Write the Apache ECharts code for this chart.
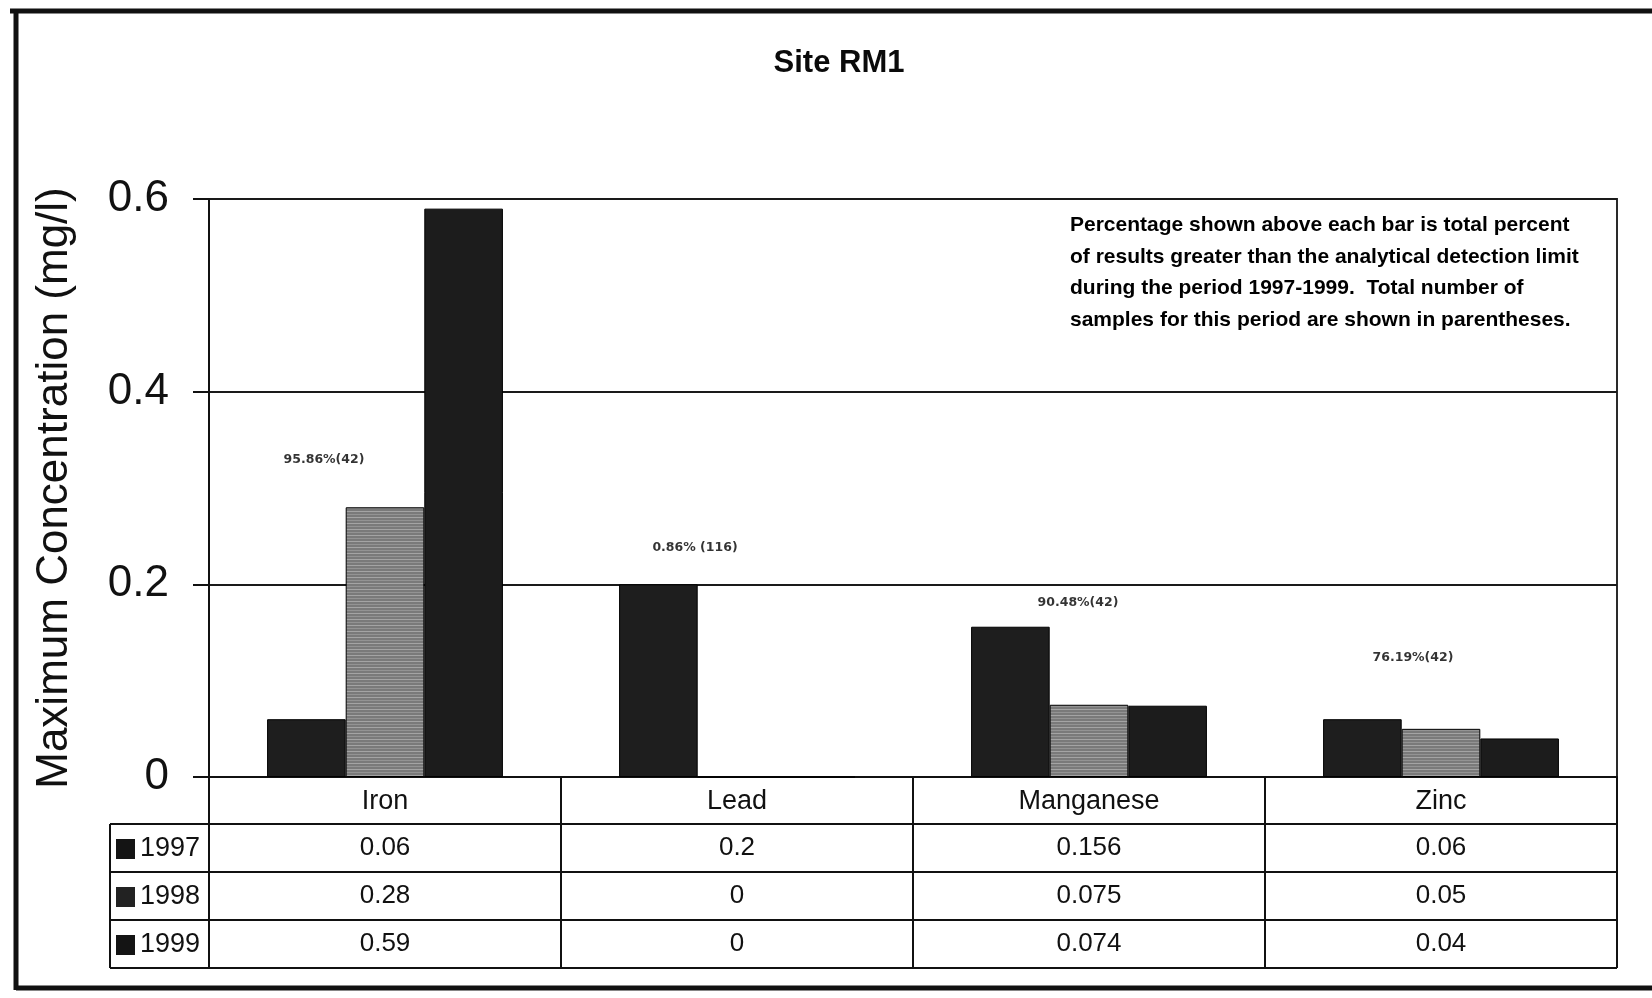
<!DOCTYPE html>
<html>
<head>
<meta charset="utf-8">
<title>Site RM1</title>
<script src="https://cdn.jsdelivr.net/npm/echarts@6/dist/echarts.min.js"></script>
<style>
  html, body { margin: 0; padding: 0; background: #fff; }
  #chart { width: 1652px; height: 998px; }
</style>
</head>
<body>
<div id="chart"></div>
<script>
// Maximum concentrations by metal and year
const categories = ['Iron', 'Lead', 'Manganese', 'Zinc'];
const years = ['1997', '1998', '1999'];
const v1997 = [0.06, 0.2, 0.156, 0.06];
const v1998 = [0.28, 0, 0.075, 0.05];
const v1999 = [0.59, 0, 0.074, 0.04];
const yTicks = [0, 0.2, 0.4, 0.6];

// Percent of results above detection limit (sample count), and the level each note sits at
const detectNotes = ['95.86%(42)', '0.86% (116)', '90.48%(42)', '76.19%(42)'];
const noteLevels = [0.329, 0.2375, 0.181, 0.124];
const noteShift = [-61, -42, -11, -28];

const seriesValues = [v1997, v1998, v1999];

// Striped grey fill for the 1998 bars
function stripeFill() {
  const c = document.createElement('canvas');
  c.width = 8; c.height = 6;
  const g = c.getContext('2d');
  g.fillStyle = '#7a7a7a';
  g.fillRect(0, 0, 8, 6);
  g.fillStyle = '#a4a4a4';
  g.fillRect(0, 1, 8, 1);
  g.fillStyle = '#939393';
  g.fillRect(0, 4, 8, 1);
  return { image: c, repeat: 'repeat' };
}
const barFills = ['#1e1e1e', stripeFill(), '#1c1c1c'];
const iconFills = ['#141414', '#222222', '#141414'];

const GRID = { left: 209, right: 35, top: 199, bottom: 221 };
const FONT = '"Liberation Sans", Arial, sans-serif';

const chart = echarts.init(document.getElementById('chart'), null, { renderer: 'canvas' });

const option = {
  backgroundColor: '#ffffff',
  animation: false,
  title: {
    text: 'Site RM1',
    left: 834,
    top: 43,
    textAlign: 'center',
    textStyle: { fontFamily: FONT, fontWeight: 'bold', fontSize: 31, color: '#0a0a0a' }
  },
  grid: {
    left: GRID.left, right: GRID.right, top: GRID.top, bottom: GRID.bottom,
    show: true, borderColor: '#2a2a2a', borderWidth: 2, backgroundColor: 'transparent'
  },
  xAxis: {
    type: 'category',
    data: categories,
    axisLine: { show: true, lineStyle: { color: '#111', width: 2 } },
    axisTick: { show: false },
    axisLabel: {
      margin: 11, fontFamily: FONT, fontSize: 27, color: '#111', verticalAlign: 'top'
    }
  },
  yAxis: {
    type: 'value',
    min: yTicks[0],
    max: yTicks[yTicks.length - 1],
    interval: yTicks[1] - yTicks[0],
    name: 'Maximum Concentration (mg/l)',
    nameLocation: 'middle',
    nameGap: 132,
    nameTextStyle: { fontFamily: FONT, fontSize: 44, color: '#111' },
    axisLine: { show: true, lineStyle: { color: '#111', width: 2 } },
    axisTick: { show: true, inside: false, length: 16, lineStyle: { color: '#111', width: 2 } },
    axisLabel: {
      margin: 40, fontFamily: FONT, fontSize: 44, color: '#111',
      formatter: v => (v === 0 ? '0' : String(Math.round(v * 10) / 10))
    },
    splitLine: { show: true, lineStyle: { color: '#1a1a1a', width: 2 } }
  },
  series: years.map((y, i) => ({
    name: y,
    type: 'bar',
    data: seriesValues[i],
    barGap: '0%',
    barCategoryGap: '33%',
    itemStyle: { color: barFills[i], borderColor: '#000', borderWidth: 1 },
    z: 3
  })).concat([{
    name: 'notes',
    type: 'scatter',
    symbolSize: 0,
    silent: true,
    z: 5,
    data: categories.map((c, i) => ({
      value: [c, noteLevels[i]],
      label: { offset: [noteShift[i], 0] }
    })),
    label: {
      show: true,
      position: 'inside',
      formatter: p => detectNotes[p.dataIndex],
      fontFamily: '"DejaVu Sans", sans-serif',
      fontWeight: 'bold',
      fontSize: 12.5,
      color: '#000'
    }
  }])
};
chart.setOption(option);

// Note text, data table and page frame
function buildOverlay() {
  const rect = chart.getModel().getComponent('grid').coordinateSystem.getRect();
  const x0 = rect.x, x1 = rect.x + rect.width;
  const yAxis0 = chart.convertToPixel({ yAxisIndex: 0 }, 0);
  const colW = rect.width / categories.length;
  const headerBottom = yAxis0 + 47;
  const rowH = 48;
  const tableBottom = headerBottom + rowH * years.length;
  const legendLeft = 110;
  const els = [];
  const line = (ax, ay, bx, by, w) => els.push({
    type: 'line', shape: { x1: ax, y1: ay, x2: bx, y2: by },
    style: { stroke: '#111', lineWidth: w || 2 }, z: 10
  });

  // outer frame
  line(10, 11, 1652, 11, 5);
  line(16, 11, 16, 990, 5);
  line(16, 988, 1652, 988, 5);

  // table grid
  for (let i = 0; i <= categories.length; i++) {
    line(x0 + colW * i, yAxis0, x0 + colW * i, tableBottom);
  }
  line(legendLeft, headerBottom, legendLeft, tableBottom);
  for (let r = 0; r <= years.length; r++) {
    const y = headerBottom + rowH * r;
    line(legendLeft, y, x1, y);
  }

  // table rows
  years.forEach((yr, r) => {
    const cy = headerBottom + rowH * r + rowH / 2;
    els.push({
      type: 'rect', shape: { x: 116, y: cy - 9, width: 19, height: 20 },
      style: { fill: iconFills[r] }, z: 11
    });
    els.push({
      type: 'text', x: 140, y: cy + 1,
      style: { text: yr, font: '27px ' + FONT, fill: '#111', textAlign: 'left', textVerticalAlign: 'middle' },
      z: 11
    });
    categories.forEach((c, k) => {
      const cx = chart.convertToPixel({ xAxisIndex: 0 }, c);
      els.push({
        type: 'text', x: cx, y: cy,
        style: { text: String(seriesValues[r][k]), font: '26px ' + FONT, fill: '#111', textAlign: 'center', textVerticalAlign: 'middle' },
        z: 11
      });
    });
  });

  // explanatory note
  const noteLines = [
    'Percentage shown above each bar is total percent',
    'of results greater than the analytical detection limit',
    'during the period 1997-1999.  Total number of',
    'samples for this period are shown in parentheses.'
  ];
  noteLines.forEach((t, i) => {
    els.push({
      type: 'text', x: 1070, y: 225 + i * 31.8,
      style: { text: t, font: 'bold 21px ' + FONT, fill: '#000', textAlign: 'left', textVerticalAlign: 'middle' },
      z: 11
    });
  });

  chart.setOption({ graphic: { elements: els } });
}
buildOverlay();
</script>
</body>
</html>
